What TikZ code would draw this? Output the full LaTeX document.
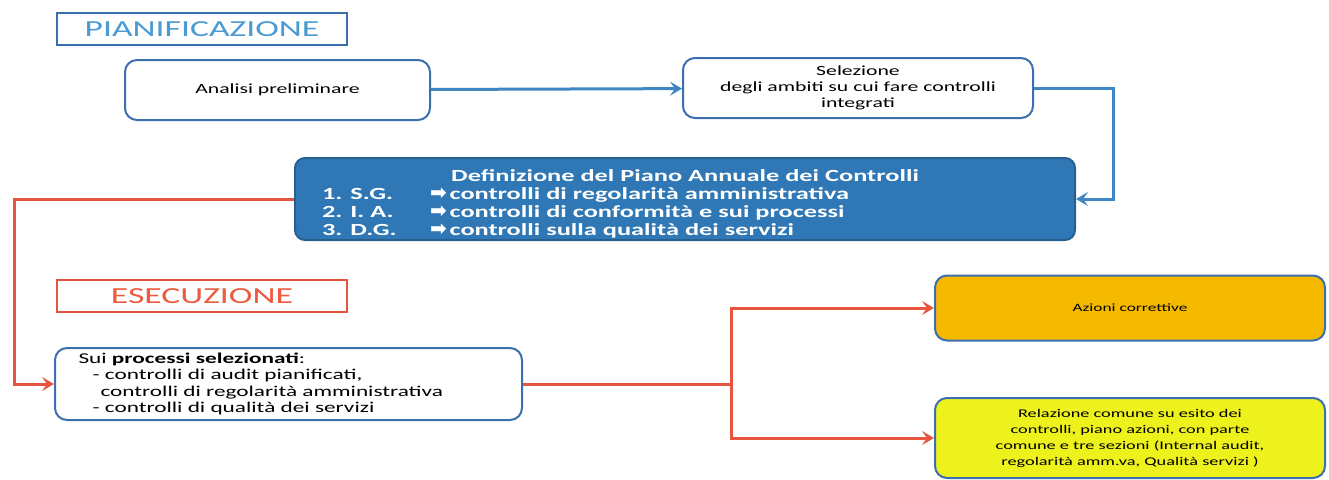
\documentclass[tikz,border=0pt]{standalone}
\usepackage{fontspec}
\setmainfont[FakeStretch=1.55]{Carlito}
\newfontfamily\symfont{DejaVu Sans}
\usetikzlibrary{arrows.meta, calc}
\definecolor{boxblue}{HTML}{3C6FB0}
\definecolor{lineblue}{HTML}{3F86C4}
\definecolor{pianoblue}{HTML}{2F78B5}
\definecolor{linered}{HTML}{E8553F}
\definecolor{titleblue}{HTML}{4A9BD2}
\definecolor{titlered}{HTML}{EE5A40}
\definecolor{azionifill}{HTML}{F5BA00}
\definecolor{relazfill}{HTML}{EEF21C}
\def\arr{{\symfont\fontsize{10}{9}\selectfont ➡}}
\tikzset{phase/.style={line width=0.8pt, minimum width=145pt, minimum height=16pt, font=\fontsize{11.5}{13}\selectfont}}
\tikzset{box/.style={draw=boxblue, line width=1pt, rounded corners=6pt, align=center, inner sep=0pt, font=\fontsize{7}{8}\selectfont}}
\tikzset{blueline/.style={lineblue, line width=1.5pt, -{Stealth[length=6pt, width=7pt, inset=2.5pt]}}}
\tikzset{redline/.style={linered, line width=1.5pt, -{Stealth[length=6pt, width=7pt, inset=2.5pt]}}}
\begin{document}
\begin{tikzpicture}[x=0.5pt, y=-0.5pt]
  \useasboundingbox (0,0) rectangle (1329,479);
  % Pianificazione
  \node[phase, draw=boxblue, text=titleblue] (plan) at (202,29) {PIANIFICAZIONE};
  \node[box, minimum width=152.5pt, minimum height=30pt] (analisi) at (277.5,90) {Analisi preliminare};
  \node[box, minimum width=175pt, minimum height=30pt] (selez) at (858,88)
    {Selezione\\degli ambiti su cui fare controlli\\integrati};
  \node[box, fill=pianoblue, draw=pianoblue!80!black, rounded corners=5pt, text=white,
        minimum width=390pt, minimum height=41pt, align=left,
        font=\bfseries\fontsize{8.5}{9}\selectfont] (piano) at (685,199)
    {\rule{0pt}{11pt}\makebox[363pt]{Definizione del Piano Annuale dei Controlli}\\
     \makebox[54pt][l]{1. S.G.}\arr\,controlli di regolarità amministrativa\\
     \makebox[54pt][l]{2. I. A.}\arr\,controlli di conformità e sui processi\\
     \makebox[54pt][l]{3. D.G.}\arr\,controlli sulla qualità dei servizi};
  \draw[blueline] (analisi) -- (selez);
  \draw[blueline] (selez.east) -- ++(79,0) |- (piano.east);
  % Esecuzione
  \node[phase, draw=linered, text=titlered] (esec) at (202,296) {ESECUZIONE};
  \node[box, minimum width=233.5pt, minimum height=36pt, align=left,
        font=\fontsize{7.5}{8.3}\selectfont] (sui) at (288.5,384)
    {\makebox[210pt][l]{Sui \textbf{processi selezionati}:}\\
     \hspace*{7pt}- controlli di audit pianificati,\\
     \hspace*{11pt}controlli di regolarità amministrativa\\
     \hspace*{7pt}- controlli di qualità dei servizi};
  \node[box, fill=azionifill, minimum width=195pt, minimum height=32.5pt,
        font=\fontsize{5.6}{7}\selectfont] (azioni) at (1130,308)
    {Azioni correttive};
  \node[box, fill=relazfill, minimum width=195pt, minimum height=40pt,
        font=\fontsize{5.9}{8}\selectfont] (relaz) at (1130,438)
    {Relazione comune su esito dei\\controlli, piano azioni, con parte\\comune e tre sezioni (Internal audit,\\regolarità amm.va, Qualità servizi )};
  \draw[redline] (piano.west) -- ++(-280,0) |- (sui.west);
  \coordinate (split) at ($(sui.east)+(208,0)$);
  \draw[linered, line width=1.5pt] (sui.east) -- (split);
  \draw[redline] (split) |- (azioni.west);
  \draw[redline] (split) |- (relaz.west);
\end{tikzpicture}
\end{document}
